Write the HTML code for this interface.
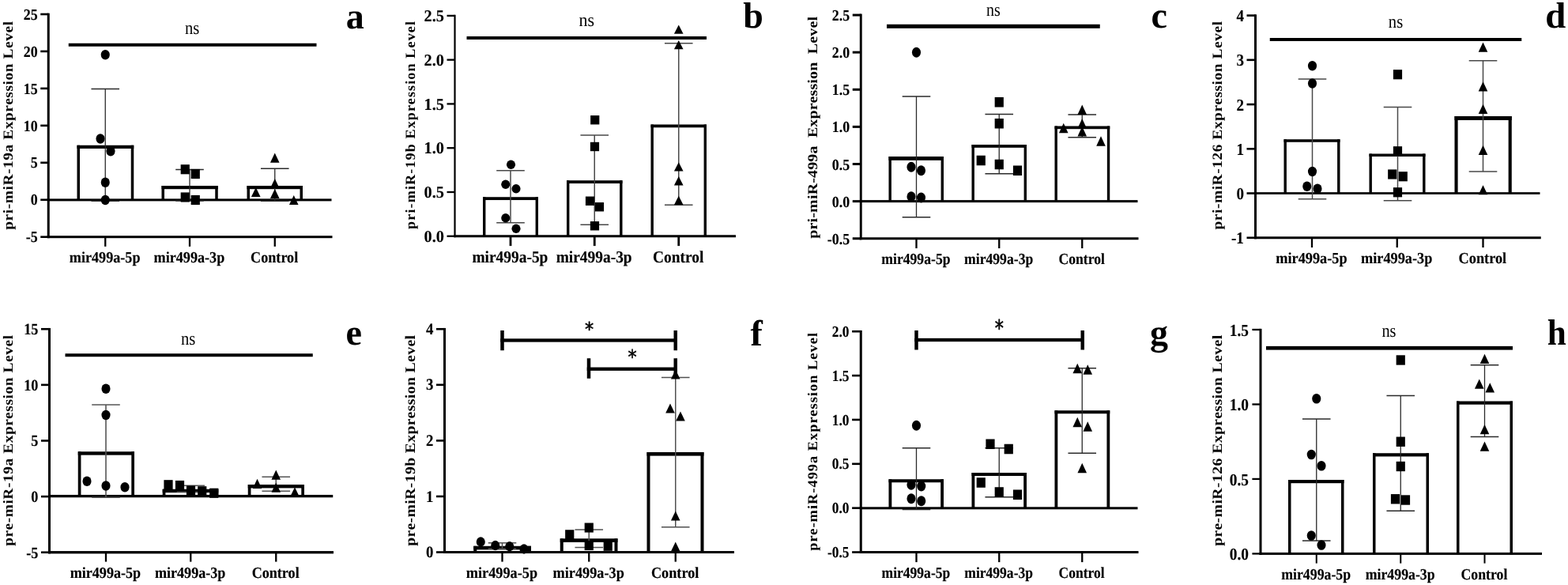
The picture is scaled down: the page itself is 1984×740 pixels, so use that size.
<!DOCTYPE html>
<html lang="en">
<head>
<meta charset="utf-8">
<title>Expression levels of pri-miRNA and pre-miRNA</title>
<style>
html,body{margin:0;padding:0;background:#fff;}
body{width:1984px;height:740px;overflow:hidden;}
svg{display:block;font-family:'Liberation Serif', 'Times New Roman', serif;fill:#000;}
.t{font-weight:bold;stroke:#000;stroke-width:0.15px;stroke-linejoin:round;}
.L{font-weight:bold;}
</style>
</head>
<body>
<svg width="1984" height="740" viewBox="0 0 1984 740" shape-rendering="geometricPrecision" text-rendering="geometricPrecision">
<rect x="0" y="0" width="1984" height="740" fill="#fff"/>
<g>
<rect x="97.5" y="183.75" width="71.75" height="69.15" fill="#fff"/>
<rect x="97.5" y="183.75" width="3.5" height="69.15" fill="#000"/>
<rect x="165.75" y="183.75" width="3.5" height="69.15" fill="#000"/>
<rect x="97.5" y="183.75" width="71.75" height="4.2" fill="#000"/>
<rect x="204.5" y="235" width="71.25" height="17.9" fill="#fff"/>
<rect x="204.5" y="235" width="3.5" height="17.9" fill="#000"/>
<rect x="272.25" y="235" width="3.5" height="17.9" fill="#000"/>
<rect x="204.5" y="235" width="71.25" height="4.2" fill="#000"/>
<rect x="312.5" y="235" width="70.5" height="17.9" fill="#fff"/>
<rect x="312.5" y="235" width="3.5" height="17.9" fill="#000"/>
<rect x="379.5" y="235" width="3.5" height="17.9" fill="#000"/>
<rect x="312.5" y="235" width="70.5" height="4.2" fill="#000"/>
<rect x="59.75" y="16.7" width="3" height="284.5" fill="#000"/>
<rect x="51.25" y="16.7" width="10" height="2.6" fill="#000"/>
<text class="t" transform="translate(47.65 24.69) scale(0.905 1)" font-size="19.8" text-anchor="end">25</text>
<rect x="51.25" y="63.65" width="10" height="2.6" fill="#000"/>
<text class="t" transform="translate(47.65 71.64) scale(0.905 1)" font-size="19.8" text-anchor="end">20</text>
<rect x="51.25" y="110.6" width="10" height="2.6" fill="#000"/>
<text class="t" transform="translate(47.65 118.59) scale(0.905 1)" font-size="19.8" text-anchor="end">15</text>
<rect x="51.25" y="157.55" width="10" height="2.6" fill="#000"/>
<text class="t" transform="translate(47.65 165.54) scale(0.905 1)" font-size="19.8" text-anchor="end">10</text>
<rect x="51.25" y="204.5" width="10" height="2.6" fill="#000"/>
<text class="t" transform="translate(47.65 212.49) scale(0.905 1)" font-size="19.8" text-anchor="end">5</text>
<rect x="51.25" y="251.45" width="10" height="2.6" fill="#000"/>
<text class="t" transform="translate(47.65 259.44) scale(0.905 1)" font-size="19.8" text-anchor="end">0</text>
<rect x="51.25" y="298.4" width="10" height="2.6" fill="#000"/>
<text class="t" transform="translate(47.65 306.39) scale(0.905 1)" font-size="19.8" text-anchor="end">-5</text>
<rect x="59.75" y="298.2" width="360.75" height="3" fill="#000"/>
<rect x="59.75" y="251.4" width="359.75" height="3" fill="#000"/>
<rect x="132.1" y="299.7" width="2.3" height="12.15" fill="#000"/>
<text class="t" transform="translate(132.65 332) scale(0.917 1)" font-size="19.8" text-anchor="middle">mir499a-5p</text>
<rect x="238.85" y="299.7" width="2.3" height="12.15" fill="#000"/>
<text class="t" transform="translate(239.4 332) scale(0.917 1)" font-size="19.8" text-anchor="middle">mir499a-3p</text>
<rect x="346.6" y="299.7" width="2.3" height="12.15" fill="#000"/>
<text class="t" transform="translate(347.15 332) scale(0.917 1)" font-size="19.8" text-anchor="middle">Control</text>
<line x1="133.25" y1="112.5" x2="133.25" y2="254.25" stroke="#2a2a2a" stroke-width="1.3"/>
<line x1="115.45" y1="112.5" x2="151.05" y2="112.5" stroke="#2a2a2a" stroke-width="1.3"/>
<line x1="115.45" y1="254.25" x2="151.05" y2="254.25" stroke="#2a2a2a" stroke-width="1.3"/>
<line x1="240" y1="214.5" x2="240" y2="254" stroke="#2a2a2a" stroke-width="1.3"/>
<line x1="222.2" y1="214.5" x2="257.8" y2="214.5" stroke="#2a2a2a" stroke-width="1.3"/>
<line x1="222.2" y1="254" x2="257.8" y2="254" stroke="#2a2a2a" stroke-width="1.3"/>
<line x1="347.75" y1="213.25" x2="347.75" y2="254.25" stroke="#2a2a2a" stroke-width="1.3"/>
<line x1="329.95" y1="213.25" x2="365.55" y2="213.25" stroke="#2a2a2a" stroke-width="1.3"/>
<line x1="329.95" y1="254.25" x2="365.55" y2="254.25" stroke="#2a2a2a" stroke-width="1.3"/>
<ellipse cx="133.25" cy="69.25" rx="5.55" ry="6.2"/>
<ellipse cx="127" cy="175.5" rx="5.55" ry="6.2"/>
<ellipse cx="140" cy="191.25" rx="5.55" ry="6.2"/>
<ellipse cx="133.25" cy="230.75" rx="5.55" ry="6.2"/>
<ellipse cx="133.25" cy="253" rx="5.55" ry="6.2"/>
<rect x="228.65" y="208.17" width="11.2" height="12.15"/>
<rect x="241.65" y="213.92" width="11.2" height="12.15"/>
<rect x="228.65" y="243.42" width="11.2" height="12.15"/>
<rect x="241.65" y="246.92" width="11.2" height="12.15"/>
<path d="M347.75 193.52L353.55 205.68L341.95 205.68Z"/>
<path d="M323.75 236.92L329.55 249.08L317.95 249.08Z"/>
<path d="M347.75 225.92L353.55 238.08L341.95 238.08Z"/>
<path d="M347.75 238.92L353.55 251.08L341.95 251.08Z"/>
<path d="M371.75 246.92L377.55 259.08L365.95 259.08Z"/>
<rect x="86.75" y="54.75" width="313.75" height="4" fill="#000"/>
<text transform="translate(243.1 43.3) scale(0.876 1)" font-size="23.5" font-weight="normal" text-anchor="middle">ns</text>
<text class="L" transform="translate(16 158.8) rotate(-90) scale(1.105 1)" font-size="17.5" text-anchor="middle" word-spacing="0" textLength="238.83" lengthAdjust="spacing" xml:space="preserve">pri-miR-19a Expression Level</text>
<text class="L" transform="translate(437.8 36) scale(1 1)" font-size="46" text-anchor="start">a</text>
</g>
<g>
<rect x="611" y="249.25" width="70" height="49.5" fill="#fff"/>
<rect x="611" y="249.25" width="3.4" height="49.5" fill="#000"/>
<rect x="677.6" y="249.25" width="3.4" height="49.5" fill="#000"/>
<rect x="611" y="249.25" width="70" height="3.8" fill="#000"/>
<rect x="717" y="228.25" width="70.5" height="70.5" fill="#fff"/>
<rect x="717" y="228.25" width="3.4" height="70.5" fill="#000"/>
<rect x="784.1" y="228.25" width="3.4" height="70.5" fill="#000"/>
<rect x="717" y="228.25" width="70.5" height="3.8" fill="#000"/>
<rect x="823.5" y="157.5" width="70.5" height="141.25" fill="#fff"/>
<rect x="823.5" y="157.5" width="3.4" height="141.25" fill="#000"/>
<rect x="890.6" y="157.5" width="3.4" height="141.25" fill="#000"/>
<rect x="823.5" y="157.5" width="70.5" height="3.8" fill="#000"/>
<rect x="574.4" y="18.75" width="2.2" height="281.5" fill="#000"/>
<rect x="565.5" y="18.75" width="10" height="2.3" fill="#000"/>
<text class="t" transform="translate(561.9 27.03) scale(0.961 1)" font-size="21.1" text-anchor="end">2.5</text>
<rect x="565.5" y="74.52" width="10" height="2.3" fill="#000"/>
<text class="t" transform="translate(561.9 82.8) scale(0.961 1)" font-size="21.1" text-anchor="end">2.0</text>
<rect x="565.5" y="130.29" width="10" height="2.3" fill="#000"/>
<text class="t" transform="translate(561.9 138.57) scale(0.961 1)" font-size="21.1" text-anchor="end">1.5</text>
<rect x="565.5" y="186.06" width="10" height="2.3" fill="#000"/>
<text class="t" transform="translate(561.9 194.34) scale(0.961 1)" font-size="21.1" text-anchor="end">1.0</text>
<rect x="565.5" y="241.83" width="10" height="2.3" fill="#000"/>
<text class="t" transform="translate(561.9 250.11) scale(0.961 1)" font-size="21.1" text-anchor="end">0.5</text>
<rect x="565.5" y="297.6" width="10" height="2.3" fill="#000"/>
<text class="t" transform="translate(561.9 305.88) scale(0.961 1)" font-size="21.1" text-anchor="end">0.0</text>
<rect x="574.4" y="297.25" width="356.6" height="3" fill="#000"/>
<rect x="644.6" y="298.75" width="2.8" height="12.35" fill="#000"/>
<text class="t" transform="translate(645.4 332.2) scale(0.916 1)" font-size="21.2" text-anchor="middle">mir499a-5p</text>
<rect x="750.85" y="298.75" width="2.8" height="12.35" fill="#000"/>
<text class="t" transform="translate(751.65 332.2) scale(0.916 1)" font-size="21.2" text-anchor="middle">mir499a-3p</text>
<rect x="857.35" y="298.75" width="2.8" height="12.35" fill="#000"/>
<text class="t" transform="translate(858.15 332.2) scale(0.916 1)" font-size="21.2" text-anchor="middle">Control</text>
<line x1="646" y1="215.75" x2="646" y2="281.75" stroke="#484848" stroke-width="1.5"/>
<line x1="628.2" y1="215.75" x2="663.8" y2="215.75" stroke="#484848" stroke-width="1.5"/>
<line x1="628.2" y1="281.75" x2="663.8" y2="281.75" stroke="#484848" stroke-width="1.5"/>
<line x1="752.25" y1="171" x2="752.25" y2="284.25" stroke="#484848" stroke-width="1.5"/>
<line x1="734.45" y1="171" x2="770.05" y2="171" stroke="#484848" stroke-width="1.5"/>
<line x1="734.45" y1="284.25" x2="770.05" y2="284.25" stroke="#484848" stroke-width="1.5"/>
<line x1="858.75" y1="54.75" x2="858.75" y2="259.25" stroke="#484848" stroke-width="1.5"/>
<line x1="840.95" y1="54.75" x2="876.55" y2="54.75" stroke="#484848" stroke-width="1.5"/>
<line x1="840.95" y1="259.25" x2="876.55" y2="259.25" stroke="#484848" stroke-width="1.5"/>
<ellipse cx="646.5" cy="208.25" rx="5.55" ry="5.82"/>
<ellipse cx="639.75" cy="233.25" rx="5.55" ry="5.82"/>
<ellipse cx="653" cy="238.75" rx="5.55" ry="5.82"/>
<ellipse cx="639.75" cy="275.75" rx="5.55" ry="5.82"/>
<ellipse cx="653" cy="289.25" rx="5.55" ry="5.82"/>
<rect x="747.15" y="146.05" width="11.2" height="11.4"/>
<rect x="746.9" y="179.8" width="11.2" height="11.4"/>
<rect x="740.9" y="248.55" width="11.2" height="11.4"/>
<rect x="752.9" y="256.05" width="11.2" height="11.4"/>
<rect x="746.9" y="280.05" width="11.2" height="11.4"/>
<path d="M858.75 31.4L864.55 42.8L852.95 42.8Z"/>
<path d="M858.75 50.9L864.55 62.3L852.95 62.3Z"/>
<path d="M858.75 205.2L864.55 216.6L852.95 216.6Z"/>
<path d="M858.75 223.05L864.55 234.45L852.95 234.45Z"/>
<path d="M858.75 247.8L864.55 259.2L852.95 259.2Z"/>
<rect x="590.5" y="46" width="303.5" height="4" fill="#000"/>
<text transform="translate(742.25 33.3) scale(0.934 1)" font-size="23.5" font-weight="normal" text-anchor="middle">ns</text>
<text class="L" transform="translate(524.5 158.45) rotate(-90) scale(1.036 1)" font-size="17.5" text-anchor="middle" word-spacing="0" textLength="253.79" lengthAdjust="spacing" xml:space="preserve">pri-miR-19b Expression Level</text>
<text class="L" transform="translate(940.3 35) scale(1 1)" font-size="46" text-anchor="start">b</text>
</g>
<g>
<rect x="1124.5" y="198" width="69.5" height="56.6" fill="#fff"/>
<rect x="1124.5" y="198" width="3.4" height="56.6" fill="#000"/>
<rect x="1190.6" y="198" width="3.4" height="56.6" fill="#000"/>
<rect x="1124.5" y="198" width="69.5" height="4.8" fill="#000"/>
<rect x="1229.5" y="183" width="69.5" height="71.6" fill="#fff"/>
<rect x="1229.5" y="183" width="3.4" height="71.6" fill="#000"/>
<rect x="1295.6" y="183" width="3.4" height="71.6" fill="#000"/>
<rect x="1229.5" y="183" width="69.5" height="3.8" fill="#000"/>
<rect x="1334.5" y="159.5" width="69.75" height="95.1" fill="#fff"/>
<rect x="1334.5" y="159.5" width="3.4" height="95.1" fill="#000"/>
<rect x="1400.85" y="159.5" width="3.4" height="95.1" fill="#000"/>
<rect x="1334.5" y="159.5" width="69.75" height="3.7" fill="#000"/>
<rect x="1087.8" y="17.55" width="2.9" height="285.7" fill="#000"/>
<rect x="1078.75" y="17.55" width="10.5" height="3" fill="#000"/>
<text class="t" transform="translate(1075.15 26.04) scale(0.903 1)" font-size="19.8" text-anchor="end">2.5</text>
<rect x="1078.75" y="64.67" width="10.5" height="3" fill="#000"/>
<text class="t" transform="translate(1075.15 73.16) scale(0.903 1)" font-size="19.8" text-anchor="end">2.0</text>
<rect x="1078.75" y="111.78" width="10.5" height="3" fill="#000"/>
<text class="t" transform="translate(1075.15 120.28) scale(0.903 1)" font-size="19.8" text-anchor="end">1.5</text>
<rect x="1078.75" y="158.9" width="10.5" height="3" fill="#000"/>
<text class="t" transform="translate(1075.15 167.39) scale(0.903 1)" font-size="19.8" text-anchor="end">1.0</text>
<rect x="1078.75" y="206.02" width="10.5" height="3" fill="#000"/>
<text class="t" transform="translate(1075.15 214.51) scale(0.903 1)" font-size="19.8" text-anchor="end">0.5</text>
<rect x="1078.75" y="253.13" width="10.5" height="3" fill="#000"/>
<text class="t" transform="translate(1075.15 261.63) scale(0.903 1)" font-size="19.8" text-anchor="end">0.0</text>
<rect x="1078.75" y="300.25" width="10.5" height="3" fill="#000"/>
<text class="t" transform="translate(1075.15 308.74) scale(0.903 1)" font-size="19.8" text-anchor="end">-0.5</text>
<rect x="1087.8" y="300.25" width="352.7" height="3" fill="#000"/>
<rect x="1087.8" y="253.1" width="351.7" height="3" fill="#000"/>
<rect x="1158.35" y="301.75" width="2.3" height="12.35" fill="#000"/>
<text class="t" transform="translate(1158.9 333.9) scale(0.892 1)" font-size="19.8" text-anchor="middle">mir499a-5p</text>
<rect x="1263.1" y="301.75" width="2.3" height="12.35" fill="#000"/>
<text class="t" transform="translate(1263.65 333.9) scale(0.892 1)" font-size="19.8" text-anchor="middle">mir499a-3p</text>
<rect x="1368.1" y="301.75" width="2.3" height="12.35" fill="#000"/>
<text class="t" transform="translate(1368.65 333.9) scale(0.892 1)" font-size="19.8" text-anchor="middle">Control</text>
<line x1="1159.5" y1="122" x2="1159.5" y2="274.75" stroke="#2a2a2a" stroke-width="1.3"/>
<line x1="1141.7" y1="122" x2="1177.3" y2="122" stroke="#2a2a2a" stroke-width="1.3"/>
<line x1="1141.7" y1="274.75" x2="1177.3" y2="274.75" stroke="#2a2a2a" stroke-width="1.3"/>
<line x1="1264.25" y1="144.5" x2="1264.25" y2="219.75" stroke="#2a2a2a" stroke-width="1.3"/>
<line x1="1246.45" y1="144.5" x2="1282.05" y2="144.5" stroke="#2a2a2a" stroke-width="1.3"/>
<line x1="1246.45" y1="219.75" x2="1282.05" y2="219.75" stroke="#2a2a2a" stroke-width="1.3"/>
<line x1="1369.25" y1="145" x2="1369.25" y2="173.75" stroke="#2a2a2a" stroke-width="1.3"/>
<line x1="1351.45" y1="145" x2="1387.05" y2="145" stroke="#2a2a2a" stroke-width="1.3"/>
<line x1="1351.45" y1="173.75" x2="1387.05" y2="173.75" stroke="#2a2a2a" stroke-width="1.3"/>
<ellipse cx="1159.5" cy="66.25" rx="5.55" ry="6.4"/>
<ellipse cx="1153" cy="211.25" rx="5.55" ry="6.4"/>
<ellipse cx="1165.5" cy="215.75" rx="5.55" ry="6.4"/>
<ellipse cx="1153" cy="248.75" rx="5.55" ry="6.4"/>
<ellipse cx="1165.5" cy="250" rx="5.55" ry="6.4"/>
<rect x="1258.65" y="122.98" width="11.2" height="12.54"/>
<rect x="1258.65" y="149.98" width="11.2" height="12.54"/>
<rect x="1235.65" y="196.73" width="11.2" height="12.54"/>
<rect x="1258.65" y="201.73" width="11.2" height="12.54"/>
<rect x="1281.9" y="209.48" width="11.2" height="12.54"/>
<path d="M1369.25 132.48L1375.05 145.02L1363.45 145.02Z"/>
<path d="M1345.75 155.73L1351.55 168.27L1339.95 168.27Z"/>
<path d="M1369.25 149.98L1375.05 162.52L1363.45 162.52Z"/>
<path d="M1369.25 159.98L1375.05 172.52L1363.45 172.52Z"/>
<path d="M1393 172.13L1398.8 184.67L1387.2 184.67Z"/>
<rect x="1122" y="30.8" width="269.75" height="5" fill="#000"/>
<text transform="translate(1256.9 20.3) scale(0.849 1)" font-size="23.5" font-weight="normal" text-anchor="middle">ns</text>
<text class="L" transform="translate(1034 161.35) rotate(-90) scale(1.14 1)" font-size="17.5" text-anchor="middle" word-spacing="0" textLength="246.26" lengthAdjust="spacing" xml:space="preserve">pri-miR-499a  Expression  Level</text>
<text class="L" transform="translate(1456.6 35) scale(1 1)" font-size="46" text-anchor="start">c</text>
</g>
<g>
<rect x="1624.5" y="176.25" width="71" height="68.25" fill="#fff"/>
<rect x="1624.5" y="176.25" width="3.4" height="68.25" fill="#000"/>
<rect x="1692.1" y="176.25" width="3.4" height="68.25" fill="#000"/>
<rect x="1624.5" y="176.25" width="71" height="3.5" fill="#000"/>
<rect x="1732.5" y="194.5" width="71" height="50" fill="#fff"/>
<rect x="1732.5" y="194.5" width="3.4" height="50" fill="#000"/>
<rect x="1800.1" y="194.5" width="3.4" height="50" fill="#000"/>
<rect x="1732.5" y="194.5" width="71" height="3.5" fill="#000"/>
<rect x="1840.5" y="147" width="72.25" height="97.5" fill="#fff"/>
<rect x="1840.5" y="147" width="4.1" height="97.5" fill="#000"/>
<rect x="1908.65" y="147" width="4.1" height="97.5" fill="#000"/>
<rect x="1840.5" y="147" width="72.25" height="5" fill="#000"/>
<rect x="1587" y="18.3" width="3" height="283.95" fill="#000"/>
<rect x="1577.5" y="18.3" width="11" height="2.6" fill="#000"/>
<text class="t" transform="translate(1573.9 27.17) scale(0.899 1)" font-size="21.2" text-anchor="end">4</text>
<rect x="1577.5" y="74.53" width="11" height="2.6" fill="#000"/>
<text class="t" transform="translate(1573.9 83.4) scale(0.899 1)" font-size="21.2" text-anchor="end">3</text>
<rect x="1577.5" y="130.76" width="11" height="2.6" fill="#000"/>
<text class="t" transform="translate(1573.9 139.63) scale(0.899 1)" font-size="21.2" text-anchor="end">2</text>
<rect x="1577.5" y="186.99" width="11" height="2.6" fill="#000"/>
<text class="t" transform="translate(1573.9 195.86) scale(0.899 1)" font-size="21.2" text-anchor="end">1</text>
<rect x="1577.5" y="243.22" width="11" height="2.6" fill="#000"/>
<text class="t" transform="translate(1573.9 252.09) scale(0.899 1)" font-size="21.2" text-anchor="end">0</text>
<rect x="1577.5" y="299.45" width="11" height="2.6" fill="#000"/>
<text class="t" transform="translate(1573.9 308.32) scale(0.899 1)" font-size="21.2" text-anchor="end">-1</text>
<rect x="1587" y="299.25" width="362.75" height="3" fill="#000"/>
<rect x="1587" y="243.15" width="361.5" height="2.7" fill="#000"/>
<rect x="1658.85" y="300.75" width="2.3" height="12.35" fill="#000"/>
<text class="t" transform="translate(1659.4 332.5) scale(0.924 1)" font-size="19.8" text-anchor="middle">mir499a-5p</text>
<rect x="1766.6" y="300.75" width="2.3" height="12.35" fill="#000"/>
<text class="t" transform="translate(1767.15 332.5) scale(0.924 1)" font-size="19.8" text-anchor="middle">mir499a-3p</text>
<rect x="1875.35" y="300.75" width="2.3" height="12.35" fill="#000"/>
<text class="t" transform="translate(1875.9 332.5) scale(0.924 1)" font-size="19.8" text-anchor="middle">Control</text>
<line x1="1660.5" y1="100" x2="1660.5" y2="251.75" stroke="#484848" stroke-width="1.5"/>
<line x1="1642.7" y1="100" x2="1678.3" y2="100" stroke="#484848" stroke-width="1.5"/>
<line x1="1642.7" y1="251.75" x2="1678.3" y2="251.75" stroke="#484848" stroke-width="1.5"/>
<line x1="1768.5" y1="135.5" x2="1768.5" y2="253.75" stroke="#484848" stroke-width="1.5"/>
<line x1="1750.7" y1="135.5" x2="1786.3" y2="135.5" stroke="#484848" stroke-width="1.5"/>
<line x1="1750.7" y1="253.75" x2="1786.3" y2="253.75" stroke="#484848" stroke-width="1.5"/>
<line x1="1876.5" y1="76.75" x2="1876.5" y2="217" stroke="#484848" stroke-width="1.5"/>
<line x1="1858.7" y1="76.75" x2="1894.3" y2="76.75" stroke="#484848" stroke-width="1.5"/>
<line x1="1858.7" y1="217" x2="1894.3" y2="217" stroke="#484848" stroke-width="1.5"/>
<ellipse cx="1660.5" cy="83.25" rx="5.55" ry="6.22"/>
<ellipse cx="1660.5" cy="105.5" rx="5.55" ry="6.22"/>
<ellipse cx="1660.5" cy="217" rx="5.55" ry="6.22"/>
<ellipse cx="1653.75" cy="235.75" rx="5.55" ry="6.22"/>
<ellipse cx="1667" cy="238.75" rx="5.55" ry="6.22"/>
<rect x="1762.9" y="88.16" width="11.2" height="12.18"/>
<rect x="1762.9" y="185.16" width="11.2" height="12.18"/>
<rect x="1756.15" y="214.41" width="11.2" height="12.18"/>
<rect x="1769.65" y="217.16" width="11.2" height="12.18"/>
<rect x="1762.9" y="237.16" width="11.2" height="12.18"/>
<path d="M1876.5 53.51L1882.3 65.69L1870.7 65.69Z"/>
<path d="M1876.5 103.31L1882.3 115.49L1870.7 115.49Z"/>
<path d="M1876.5 131.81L1882.3 143.99L1870.7 143.99Z"/>
<path d="M1876.5 183.81L1882.3 195.99L1870.7 195.99Z"/>
<path d="M1876.5 234.16L1882.3 246.34L1870.7 246.34Z"/>
<rect x="1606.75" y="48" width="318.5" height="4" fill="#000"/>
<text transform="translate(1766 35.3) scale(0.874 1)" font-size="23.5" font-weight="normal" text-anchor="middle">ns</text>
<text class="L" transform="translate(1546 158.75) rotate(-90) scale(1.107 1)" font-size="17.5" text-anchor="middle" word-spacing="0" textLength="238.12" lengthAdjust="spacing" xml:space="preserve">pri-miR-126 Expression Level</text>
<text class="L" transform="translate(1955.3 35) scale(1.02 1)" font-size="46" text-anchor="start">d</text>
</g>
<g>
<rect x="98.75" y="571.25" width="71.25" height="56.35" fill="#fff"/>
<rect x="98.75" y="571.25" width="3.7" height="56.35" fill="#000"/>
<rect x="166.3" y="571.25" width="3.7" height="56.35" fill="#000"/>
<rect x="98.75" y="571.25" width="71.25" height="4.4" fill="#000"/>
<rect x="205.7" y="618.75" width="70.55" height="8.85" fill="#fff"/>
<rect x="205.7" y="618.75" width="3.7" height="8.85" fill="#000"/>
<rect x="272.55" y="618.75" width="3.7" height="8.85" fill="#000"/>
<rect x="205.7" y="618.75" width="70.55" height="4.4" fill="#000"/>
<rect x="313.75" y="613" width="71.25" height="14.6" fill="#fff"/>
<rect x="313.75" y="613" width="3.7" height="14.6" fill="#000"/>
<rect x="381.3" y="613" width="3.7" height="14.6" fill="#000"/>
<rect x="313.75" y="613" width="71.25" height="4.4" fill="#000"/>
<rect x="61" y="414.95" width="3" height="285.4" fill="#000"/>
<rect x="52" y="414.95" width="10.5" height="2.6" fill="#000"/>
<text class="t" transform="translate(48.4 423.08) scale(0.905 1)" font-size="20.2" text-anchor="end">15</text>
<rect x="52" y="485.56" width="10.5" height="2.6" fill="#000"/>
<text class="t" transform="translate(48.4 493.69) scale(0.905 1)" font-size="20.2" text-anchor="end">10</text>
<rect x="52" y="556.18" width="10.5" height="2.6" fill="#000"/>
<text class="t" transform="translate(48.4 564.3) scale(0.905 1)" font-size="20.2" text-anchor="end">5</text>
<rect x="52" y="626.79" width="10.5" height="2.6" fill="#000"/>
<text class="t" transform="translate(48.4 634.92) scale(0.905 1)" font-size="20.2" text-anchor="end">0</text>
<rect x="52" y="697.4" width="10.5" height="2.6" fill="#000"/>
<text class="t" transform="translate(48.4 705.53) scale(0.905 1)" font-size="20.2" text-anchor="end">-5</text>
<rect x="61" y="697.05" width="361" height="3.3" fill="#000"/>
<rect x="61" y="625.95" width="360.25" height="3.3" fill="#000"/>
<rect x="132.85" y="698.7" width="2.3" height="11.9" fill="#000"/>
<text class="t" transform="translate(133.4 730.75) scale(0.915 1)" font-size="19.8" text-anchor="middle">mir499a-5p</text>
<rect x="240.1" y="698.7" width="2.3" height="11.9" fill="#000"/>
<text class="t" transform="translate(240.65 730.75) scale(0.915 1)" font-size="19.8" text-anchor="middle">mir499a-3p</text>
<rect x="348.1" y="698.7" width="2.3" height="11.9" fill="#000"/>
<text class="t" transform="translate(348.65 730.75) scale(0.915 1)" font-size="19.8" text-anchor="middle">Control</text>
<line x1="134" y1="512" x2="134" y2="629.25" stroke="#555" stroke-width="1.6"/>
<line x1="116.2" y1="512" x2="151.8" y2="512" stroke="#555" stroke-width="1.6"/>
<line x1="116.2" y1="629.25" x2="151.8" y2="629.25" stroke="#555" stroke-width="1.6"/>
<line x1="241.25" y1="614.25" x2="241.25" y2="622.5" stroke="#555" stroke-width="1.6"/>
<line x1="223.45" y1="614.25" x2="259.05" y2="614.25" stroke="#555" stroke-width="1.6"/>
<line x1="223.45" y1="622.5" x2="259.05" y2="622.5" stroke="#555" stroke-width="1.6"/>
<line x1="349.25" y1="603.25" x2="349.25" y2="621.25" stroke="#555" stroke-width="1.6"/>
<line x1="331.45" y1="603.25" x2="367.05" y2="603.25" stroke="#555" stroke-width="1.6"/>
<line x1="331.45" y1="621.25" x2="367.05" y2="621.25" stroke="#555" stroke-width="1.6"/>
<ellipse cx="134" cy="491.75" rx="5.55" ry="6.2"/>
<ellipse cx="134" cy="525" rx="5.55" ry="6.2"/>
<ellipse cx="110" cy="608.75" rx="5.55" ry="6.2"/>
<ellipse cx="134" cy="614.5" rx="5.55" ry="6.2"/>
<ellipse cx="158" cy="616.25" rx="5.55" ry="6.2"/>
<rect x="207.4" y="607.17" width="11.2" height="12.15"/>
<rect x="221.9" y="607.92" width="11.2" height="12.15"/>
<rect x="235.9" y="614.42" width="11.2" height="12.15"/>
<rect x="250.15" y="615.17" width="11.2" height="12.15"/>
<rect x="265.15" y="617.67" width="11.2" height="12.15"/>
<path d="M349.25 594.52L355.05 606.68L343.45 606.68Z"/>
<path d="M325.5 605.82L331.3 617.98L319.7 617.98Z"/>
<path d="M349.25 610.52L355.05 622.68L343.45 622.68Z"/>
<path d="M373 616.17L378.8 628.33L367.2 628.33Z"/>
<rect x="82.5" y="447.25" width="313.25" height="4" fill="#000"/>
<text transform="translate(238.1 435.8) scale(0.876 1)" font-size="23.5" font-weight="normal" text-anchor="middle">ns</text>
<text class="L" transform="translate(16 557.3) rotate(-90) scale(1.105 1)" font-size="17.5" text-anchor="middle" word-spacing="0" textLength="241.54" lengthAdjust="spacing" xml:space="preserve">pre-miR-19a Expression Level</text>
<text class="L" transform="translate(437.5 436.25) scale(1 1)" font-size="46" text-anchor="start">e</text>
</g>
<g>
<rect x="599.25" y="690.75" width="72.75" height="7.75" fill="#fff"/>
<rect x="599.25" y="690.75" width="4" height="7.75" fill="#000"/>
<rect x="668" y="690.75" width="4" height="7.75" fill="#000"/>
<rect x="599.25" y="690.75" width="72.75" height="4.6" fill="#000"/>
<rect x="708.75" y="681.25" width="72.75" height="17.25" fill="#fff"/>
<rect x="708.75" y="681.25" width="4" height="17.25" fill="#000"/>
<rect x="777.5" y="681.25" width="4" height="17.25" fill="#000"/>
<rect x="708.75" y="681.25" width="72.75" height="4.6" fill="#000"/>
<rect x="818.5" y="572" width="72" height="126.5" fill="#fff"/>
<rect x="818.5" y="572" width="4" height="126.5" fill="#000"/>
<rect x="886.5" y="572" width="4" height="126.5" fill="#000"/>
<rect x="818.5" y="572" width="72" height="4.6" fill="#000"/>
<rect x="561" y="414.95" width="3" height="285.05" fill="#000"/>
<rect x="552" y="414.95" width="10.5" height="2.6" fill="#000"/>
<text class="t" transform="translate(548.4 422.91) scale(0.913 1)" font-size="20.6" text-anchor="end">4</text>
<rect x="552" y="485.51" width="10.5" height="2.6" fill="#000"/>
<text class="t" transform="translate(548.4 493.48) scale(0.913 1)" font-size="20.6" text-anchor="end">3</text>
<rect x="552" y="556.08" width="10.5" height="2.6" fill="#000"/>
<text class="t" transform="translate(548.4 564.04) scale(0.913 1)" font-size="20.6" text-anchor="end">2</text>
<rect x="552" y="626.64" width="10.5" height="2.6" fill="#000"/>
<text class="t" transform="translate(548.4 634.6) scale(0.913 1)" font-size="20.6" text-anchor="end">1</text>
<rect x="552" y="697.2" width="10.5" height="2.6" fill="#000"/>
<text class="t" transform="translate(548.4 705.16) scale(0.913 1)" font-size="20.6" text-anchor="end">0</text>
<rect x="561" y="697" width="368" height="3" fill="#000"/>
<rect x="634.35" y="698.5" width="2.3" height="12.1" fill="#000"/>
<text class="t" transform="translate(634.9 730.75) scale(0.923 1)" font-size="19.8" text-anchor="middle">mir499a-5p</text>
<rect x="744.1" y="698.5" width="2.3" height="12.1" fill="#000"/>
<text class="t" transform="translate(744.65 730.75) scale(0.923 1)" font-size="19.8" text-anchor="middle">mir499a-3p</text>
<rect x="853.6" y="698.5" width="2.3" height="12.1" fill="#000"/>
<text class="t" transform="translate(854.15 730.75) scale(0.923 1)" font-size="19.8" text-anchor="middle">Control</text>
<line x1="635.5" y1="686.75" x2="635.5" y2="694" stroke="#505050" stroke-width="1.5"/>
<line x1="617.7" y1="686.75" x2="653.3" y2="686.75" stroke="#505050" stroke-width="1.5"/>
<line x1="617.7" y1="694" x2="653.3" y2="694" stroke="#505050" stroke-width="1.5"/>
<line x1="745.25" y1="670" x2="745.25" y2="692.5" stroke="#505050" stroke-width="1.5"/>
<line x1="727.45" y1="670" x2="763.05" y2="670" stroke="#505050" stroke-width="1.5"/>
<line x1="727.45" y1="692.5" x2="763.05" y2="692.5" stroke="#505050" stroke-width="1.5"/>
<line x1="854.75" y1="477.5" x2="854.75" y2="666.75" stroke="#505050" stroke-width="1.5"/>
<line x1="836.95" y1="477.5" x2="872.55" y2="477.5" stroke="#505050" stroke-width="1.5"/>
<line x1="836.95" y1="666.75" x2="872.55" y2="666.75" stroke="#505050" stroke-width="1.5"/>
<ellipse cx="608.25" cy="685.5" rx="5.55" ry="6.15"/>
<ellipse cx="626.75" cy="690" rx="5.55" ry="6.15"/>
<ellipse cx="644.75" cy="691.25" rx="5.55" ry="6.15"/>
<ellipse cx="663" cy="694.5" rx="5.55" ry="6.15"/>
<rect x="715.15" y="670.23" width="11.2" height="12.05"/>
<rect x="739.65" y="661.48" width="11.2" height="12.05"/>
<rect x="739.65" y="683.98" width="11.2" height="12.05"/>
<rect x="763.65" y="684.73" width="11.2" height="12.05"/>
<path d="M854.75 467.48L860.55 479.52L848.95 479.52Z"/>
<path d="M848 510.58L853.8 522.62L842.2 522.62Z"/>
<path d="M861 520.58L866.8 532.62L855.2 532.62Z"/>
<path d="M854.75 646.58L860.55 658.62L848.95 658.62Z"/>
<path d="M854.75 685.58L860.55 697.62L848.95 697.62Z"/>
<rect x="633.25" y="428.35" width="223.75" height="4.3" fill="#000"/>
<rect x="633.25" y="418" width="4.5" height="25.25" fill="#000"/>
<rect x="852.5" y="418" width="4.5" height="25.25" fill="#000"/>
<rect x="742.75" y="464.6" width="114.25" height="4.3" fill="#000"/>
<rect x="742.75" y="453.25" width="4.5" height="25.5" fill="#000"/>
<rect x="852.5" y="453.25" width="4.5" height="25.5" fill="#000"/>
<text transform="translate(745.65 425) scale(0.95 1.05)" font-family="'DejaVu Sans', 'Liberation Sans', sans-serif" font-size="23.5" font-weight="normal" text-anchor="middle" stroke="#000" stroke-width="0.55" stroke-linejoin="round">*</text>
<text transform="translate(800.15 460.4) scale(0.95 1.05)" font-family="'DejaVu Sans', 'Liberation Sans', sans-serif" font-size="23.5" font-weight="normal" text-anchor="middle" stroke="#000" stroke-width="0.55" stroke-linejoin="round">*</text>
<text class="L" transform="translate(525.4 557.3) rotate(-90) scale(1.095 1)" font-size="18" text-anchor="middle" word-spacing="0" textLength="243.68" lengthAdjust="spacing" xml:space="preserve">pre-miR-19b Expression Level</text>
<text class="L" transform="translate(949.5 437) scale(1 1)" font-size="46" text-anchor="start">f</text>
</g>
<g>
<rect x="1124.5" y="606.25" width="69.5" height="36.55" fill="#fff"/>
<rect x="1124.5" y="606.25" width="3.8" height="36.55" fill="#000"/>
<rect x="1190.2" y="606.25" width="3.8" height="36.55" fill="#000"/>
<rect x="1124.5" y="606.25" width="69.5" height="4" fill="#000"/>
<rect x="1229.5" y="598" width="69.5" height="44.8" fill="#fff"/>
<rect x="1229.5" y="598" width="3.8" height="44.8" fill="#000"/>
<rect x="1295.2" y="598" width="3.8" height="44.8" fill="#000"/>
<rect x="1229.5" y="598" width="69.5" height="4" fill="#000"/>
<rect x="1334.5" y="519.25" width="69.75" height="123.55" fill="#fff"/>
<rect x="1334.5" y="519.25" width="3.8" height="123.55" fill="#000"/>
<rect x="1400.45" y="519.25" width="3.8" height="123.55" fill="#000"/>
<rect x="1334.5" y="519.25" width="69.75" height="4" fill="#000"/>
<rect x="1087.75" y="417.95" width="3" height="282.05" fill="#000"/>
<rect x="1078.1" y="417.95" width="11.15" height="2.6" fill="#000"/>
<text class="t" transform="translate(1074.5 425.94) scale(0.877 1)" font-size="19.8" text-anchor="end">2.0</text>
<rect x="1078.1" y="473.8" width="11.15" height="2.6" fill="#000"/>
<text class="t" transform="translate(1074.5 481.79) scale(0.877 1)" font-size="19.8" text-anchor="end">1.5</text>
<rect x="1078.1" y="529.65" width="11.15" height="2.6" fill="#000"/>
<text class="t" transform="translate(1074.5 537.64) scale(0.877 1)" font-size="19.8" text-anchor="end">1.0</text>
<rect x="1078.1" y="585.5" width="11.15" height="2.6" fill="#000"/>
<text class="t" transform="translate(1074.5 593.49) scale(0.877 1)" font-size="19.8" text-anchor="end">0.5</text>
<rect x="1078.1" y="641.35" width="11.15" height="2.6" fill="#000"/>
<text class="t" transform="translate(1074.5 649.34) scale(0.877 1)" font-size="19.8" text-anchor="end">0.0</text>
<rect x="1078.1" y="697.2" width="11.15" height="2.6" fill="#000"/>
<text class="t" transform="translate(1074.5 705.19) scale(0.877 1)" font-size="19.8" text-anchor="end">-0.5</text>
<rect x="1087.75" y="697" width="352.75" height="3" fill="#000"/>
<rect x="1087.75" y="641.3" width="351.75" height="3" fill="#000"/>
<rect x="1158.35" y="698.5" width="2.3" height="12.6" fill="#000"/>
<text class="t" transform="translate(1158.9 730.75) scale(0.886 1)" font-size="19.8" text-anchor="middle">mir499a-5p</text>
<rect x="1263.1" y="698.5" width="2.3" height="12.6" fill="#000"/>
<text class="t" transform="translate(1263.65 730.75) scale(0.886 1)" font-size="19.8" text-anchor="middle">mir499a-3p</text>
<rect x="1368.1" y="698.5" width="2.3" height="12.6" fill="#000"/>
<text class="t" transform="translate(1368.65 730.75) scale(0.886 1)" font-size="19.8" text-anchor="middle">Control</text>
<line x1="1159.5" y1="566.75" x2="1159.5" y2="644.5" stroke="#2a2a2a" stroke-width="1.3"/>
<line x1="1141.7" y1="566.75" x2="1177.3" y2="566.75" stroke="#2a2a2a" stroke-width="1.3"/>
<line x1="1141.7" y1="644.5" x2="1177.3" y2="644.5" stroke="#2a2a2a" stroke-width="1.3"/>
<line x1="1264.25" y1="566.75" x2="1264.25" y2="628.75" stroke="#2a2a2a" stroke-width="1.3"/>
<line x1="1246.45" y1="566.75" x2="1282.05" y2="566.75" stroke="#2a2a2a" stroke-width="1.3"/>
<line x1="1246.45" y1="628.75" x2="1282.05" y2="628.75" stroke="#2a2a2a" stroke-width="1.3"/>
<line x1="1369.25" y1="465.75" x2="1369.25" y2="573.25" stroke="#2a2a2a" stroke-width="1.3"/>
<line x1="1351.45" y1="465.75" x2="1387.05" y2="465.75" stroke="#2a2a2a" stroke-width="1.3"/>
<line x1="1351.45" y1="573.25" x2="1387.05" y2="573.25" stroke="#2a2a2a" stroke-width="1.3"/>
<ellipse cx="1159.5" cy="538.25" rx="5.55" ry="6.4"/>
<ellipse cx="1153" cy="613.25" rx="5.55" ry="6.4"/>
<ellipse cx="1165.75" cy="615" rx="5.55" ry="6.4"/>
<ellipse cx="1153" cy="630.75" rx="5.55" ry="6.4"/>
<ellipse cx="1165.75" cy="633.75" rx="5.55" ry="6.4"/>
<rect x="1247.4" y="555.48" width="11.2" height="12.54"/>
<rect x="1270.65" y="561.73" width="11.2" height="12.54"/>
<rect x="1235.65" y="604.23" width="11.2" height="12.54"/>
<rect x="1258.65" y="616.23" width="11.2" height="12.54"/>
<rect x="1281.9" y="619.48" width="11.2" height="12.54"/>
<path d="M1363.25 459.63L1369.05 472.17L1357.45 472.17Z"/>
<path d="M1376.25 461.13L1382.05 473.67L1370.45 473.67Z"/>
<path d="M1363.25 527.83L1369.05 540.37L1357.45 540.37Z"/>
<path d="M1376.25 533.13L1382.05 545.67L1370.45 545.67Z"/>
<path d="M1369.25 585.83L1375.05 598.37L1363.45 598.37Z"/>
<rect x="1157.25" y="427.85" width="214.75" height="4.3" fill="#000"/>
<rect x="1157.25" y="418" width="4.5" height="24.5" fill="#000"/>
<rect x="1367.5" y="418" width="4.5" height="24.5" fill="#000"/>
<text transform="translate(1264.25 424.5) scale(0.95 1.22)" font-family="'DejaVu Sans', 'Liberation Sans', sans-serif" font-size="23.5" font-weight="normal" text-anchor="middle" stroke="#000" stroke-width="0.55" stroke-linejoin="round">*</text>
<text class="L" transform="translate(1034 558.9) rotate(-90) scale(1.05 1)" font-size="17.5" text-anchor="middle" word-spacing="0" textLength="262.67" lengthAdjust="spacing" xml:space="preserve">pre-miR-499a Expression Level</text>
<text class="L" transform="translate(1455 436.25) scale(1 1)" font-size="46" text-anchor="start">g</text>
</g>
<g>
<rect x="1630" y="607" width="70.5" height="93.4" fill="#fff"/>
<rect x="1630" y="607" width="3.5" height="93.4" fill="#000"/>
<rect x="1697" y="607" width="3.5" height="93.4" fill="#000"/>
<rect x="1630" y="607" width="70.5" height="4.2" fill="#000"/>
<rect x="1737" y="573.25" width="71" height="127.15" fill="#fff"/>
<rect x="1737" y="573.25" width="3.5" height="127.15" fill="#000"/>
<rect x="1804.5" y="573.25" width="3.5" height="127.15" fill="#000"/>
<rect x="1737" y="573.25" width="71" height="4.2" fill="#000"/>
<rect x="1843" y="507.5" width="71" height="192.9" fill="#fff"/>
<rect x="1843" y="507.5" width="3.5" height="192.9" fill="#000"/>
<rect x="1910.5" y="507.5" width="3.5" height="192.9" fill="#000"/>
<rect x="1843" y="507.5" width="71" height="4.2" fill="#000"/>
<rect x="1593.5" y="415.85" width="3" height="286.05" fill="#000"/>
<rect x="1584.4" y="415.85" width="10.6" height="2.3" fill="#000"/>
<text class="t" transform="translate(1580 424.93) scale(0.905 1)" font-size="21.4" text-anchor="end">1.5</text>
<rect x="1584.4" y="510.32" width="10.6" height="2.3" fill="#000"/>
<text class="t" transform="translate(1580 519.4) scale(0.905 1)" font-size="21.4" text-anchor="end">1.0</text>
<rect x="1584.4" y="604.78" width="10.6" height="2.3" fill="#000"/>
<text class="t" transform="translate(1580 613.87) scale(0.905 1)" font-size="21.4" text-anchor="end">0.5</text>
<rect x="1584.4" y="699.25" width="10.6" height="2.3" fill="#000"/>
<text class="t" transform="translate(1580 708.33) scale(0.905 1)" font-size="21.4" text-anchor="end">0.0</text>
<rect x="1593.5" y="698.9" width="357.5" height="3" fill="#000"/>
<rect x="1664.75" y="700.4" width="2" height="12.2" fill="#000"/>
<text class="t" transform="translate(1665.15 732.5) scale(0.899 1)" font-size="19.8" text-anchor="middle">mir499a-5p</text>
<rect x="1771.25" y="700.4" width="2" height="12.2" fill="#000"/>
<text class="t" transform="translate(1771.65 732.5) scale(0.899 1)" font-size="19.8" text-anchor="middle">mir499a-3p</text>
<rect x="1877.5" y="700.4" width="2" height="12.2" fill="#000"/>
<text class="t" transform="translate(1877.9 732.5) scale(0.899 1)" font-size="19.8" text-anchor="middle">Control</text>
<line x1="1665.75" y1="530" x2="1665.75" y2="684" stroke="#2a2a2a" stroke-width="1.3"/>
<line x1="1647.95" y1="530" x2="1683.55" y2="530" stroke="#2a2a2a" stroke-width="1.3"/>
<line x1="1647.95" y1="684" x2="1683.55" y2="684" stroke="#2a2a2a" stroke-width="1.3"/>
<line x1="1772.25" y1="500.5" x2="1772.25" y2="646.25" stroke="#2a2a2a" stroke-width="1.3"/>
<line x1="1754.45" y1="500.5" x2="1790.05" y2="500.5" stroke="#2a2a2a" stroke-width="1.3"/>
<line x1="1754.45" y1="646.25" x2="1790.05" y2="646.25" stroke="#2a2a2a" stroke-width="1.3"/>
<line x1="1878.5" y1="461.75" x2="1878.5" y2="552.5" stroke="#2a2a2a" stroke-width="1.3"/>
<line x1="1860.7" y1="461.75" x2="1896.3" y2="461.75" stroke="#2a2a2a" stroke-width="1.3"/>
<line x1="1860.7" y1="552.5" x2="1896.3" y2="552.5" stroke="#2a2a2a" stroke-width="1.3"/>
<ellipse cx="1665.75" cy="504.25" rx="5.55" ry="6.31"/>
<ellipse cx="1659.25" cy="575" rx="5.55" ry="6.31"/>
<ellipse cx="1672" cy="589.25" rx="5.55" ry="6.31"/>
<ellipse cx="1659.25" cy="677.5" rx="5.55" ry="6.31"/>
<ellipse cx="1672" cy="689.5" rx="5.55" ry="6.31"/>
<rect x="1766.65" y="449.32" width="11.2" height="12.36"/>
<rect x="1766.65" y="552.57" width="11.2" height="12.36"/>
<rect x="1766.65" y="583.82" width="11.2" height="12.36"/>
<rect x="1759.9" y="625.07" width="11.2" height="12.36"/>
<rect x="1772.9" y="626.32" width="11.2" height="12.36"/>
<path d="M1878.5 447.72L1884.3 460.08L1872.7 460.08Z"/>
<path d="M1871.75 479.42L1877.55 491.78L1865.95 491.78Z"/>
<path d="M1885.25 484.22L1891.05 496.58L1879.45 496.58Z"/>
<path d="M1878.5 536.92L1884.3 549.28L1872.7 549.28Z"/>
<path d="M1878.5 558.42L1884.3 570.78L1872.7 570.78Z"/>
<rect x="1602" y="437.9" width="312" height="4.7" fill="#000"/>
<text transform="translate(1757.5 425.8) scale(0.862 1)" font-size="23.5" font-weight="normal" text-anchor="middle">ns</text>
<text class="L" transform="translate(1546 557.3) rotate(-90) scale(1.124 1)" font-size="17.5" text-anchor="middle" word-spacing="0" textLength="237.54" lengthAdjust="spacing" xml:space="preserve">pre-miR-126 Expression Level</text>
<text class="L" transform="translate(1957.7 436.25) scale(0.94 1)" font-size="46" text-anchor="start">h</text>
</g>
</svg>
</body>
</html>
